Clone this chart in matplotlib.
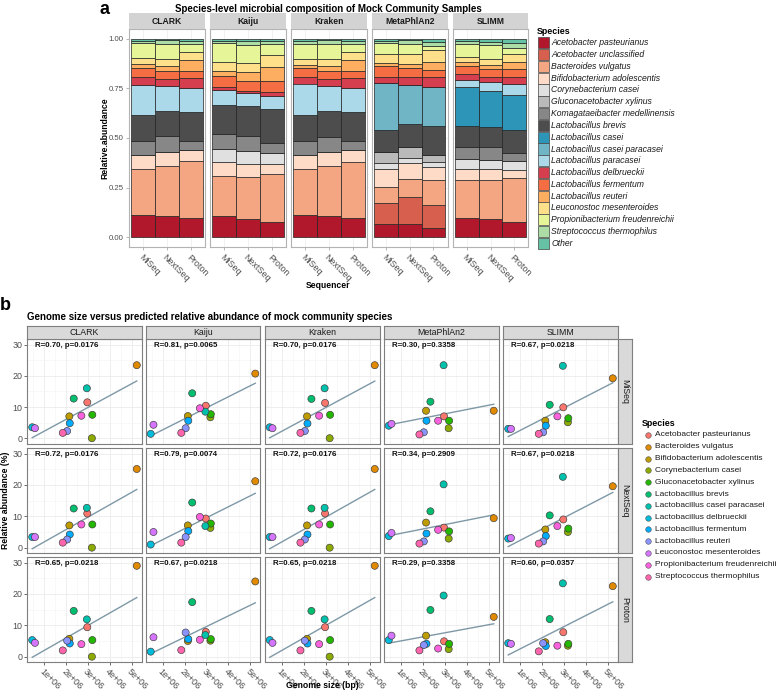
import numpy as np
import matplotlib.pyplot as plt
from matplotlib.patches import Rectangle
from matplotlib.ticker import FixedLocator

plt.rcParams["font.family"] = ["Liberation Sans", "DejaVu Sans"]

W, H = 778, 700          # output size in px (dpi 100)

tools = ["CLARK", "Kaiju", "Kraken", "MetaPhlAn2", "SLIMM"]
sequencers = ["MiSeq", "NextSeq", "Proton"]

# ---- panel a: stacked relative abundance, bottom -> top in legend order
bar_species = ["Acetobacter pasteurianus", "Acetobacter unclassified", "Bacteroides vulgatus",
               "Bifidobacterium adolescentis", "Corynebacterium casei", "Gluconacetobacter xylinus",
               "Komagataeibacter medellinensis", "Lactobacillus brevis", "Lactobacillus casei",
               "Lactobacillus casei paracasei", "Lactobacillus paracasei", "Lactobacillus delbrueckii",
               "Lactobacillus fermentum", "Lactobacillus reuteri", "Leuconostoc mesenteroides",
               "Propionibacterium freudenreichii", "Streptococcus thermophilus", "Other"]
bar_colors = ["#B2182B", "#D6604D", "#F4A582", "#FDDBC7", "#E0E0E0", "#BABABA", "#878787",
              "#4D4D4D", "#2D96B8", "#70B5C5", "#ABD9E9", "#D53E4F", "#F46D43", "#FDAE61",
              "#FEE08B", "#E6F598", "#ABDDA4", "#66C2A5"]

# rows: MiSeq, NextSeq, Proton
clark = [[.109, 0, .235, .071, 0, 0, .072, .129, 0, 0, .153, .037, .045, .022, .030, .074, .013, .010],
         [.106, 0, .252, .071, 0, 0, .079, .126, 0, 0, .128, .034, .042, .027, .035, .072, .020, .008],
         [.096, 0, .286, .055, 0, 0, .050, .143, 0, 0, .121, .050, .039, .054, .039, .039, .017, .012]]
kaiju = [[.104, 0, .203, .071, .067, 0, .076, .146, 0, 0, .077, .012, .055, .029, .042, .096, .013, .008],
         [.092, 0, .210, .067, .067, 0, .076, .148, 0, 0, .067, .012, .050, .042, .045, .094, .017, .012],
         [.076, 0, .244, .050, .054, 0, .052, .171, 0, 0, .067, .017, .055, .074, .061, .054, .013, .012]]
kraken = [[.112, 0, .230, .070, 0, 0, .071, .134, 0, 0, .158, .035, .045, .015, .027, .078, .015, .010],
          [.107, 0, .251, .071, 0, 0, .078, .127, 0, 0, .128, .034, .042, .027, .035, .072, .020, .008],
          [.096, 0, .285, .056, 0, 0, .050, .143, 0, 0, .121, .050, .039, .054, .039, .039, .017, .012]]
metaphlan2 = [[.067, .104, .084, .089, .029, .055, 0, .113, 0, .235, 0, .034, .052, .017, .045, .054, .010, .012],
              [.064, .138, .092, .079, .027, .054, 0, .118, 0, .197, 0, .039, .047, .020, .047, .054, .017, .008],
              [.047, .113, .126, .067, .025, .037, 0, .148, 0, .193, 0, .050, .037, .039, .062, .022, .017, .017]]
slimm = [[.097, 0, .192, .055, .050, 0, .062, .106, .193, 0, .037, .030, .042, .017, .029, .064, .013, .012],
         [.092, 0, .197, .055, .045, 0, .064, .101, .182, 0, .045, .029, .039, .017, .034, .067, .017, .017],
         [.076, 0, .224, .040, .042, 0, .042, .118, .176, 0, .055, .037, .039, .034, .039, .034, .024, .022]]
composition = [clark, kaiju, kraken, metaphlan2, slimm]

# ---- panel b: genome size vs predicted abundance (%)
pt_species = ["Acetobacter pasteurianus", "Bacteroides vulgatus", "Bifidobacterium adolescentis",
              "Corynebacterium casei", "Gluconacetobacter xylinus", "Lactobacillus brevis",
              "Lactobacillus casei paracasei", "Lactobacillus delbrueckii", "Lactobacillus fermentum",
              "Lactobacillus reuteri", "Leuconostoc mesenteroides", "Propionibacterium freudenreichii",
              "Streptococcus thermophilus"]
pt_colors = ["#F8766D", "#E18A00", "#BE9C00", "#8CAB00", "#24B700", "#00BE70", "#00C1AB",
             "#00BBDA", "#00ACFC", "#8B93FF", "#D575FE", "#F962DD", "#FF65AC"]
genome_size = [2.97e6, 5.23e6, 2.15e6, 3.18e6, 3.20e6, 2.35e6, 2.95e6,
               0.455e6, 2.17e6, 2.05e6, 0.58e6, 2.70e6, 1.85e6]

# abundance[sequencer][tool] in pt_species order
ab_miseq = [[11.5, 23.4, 7.0, 0.0, 7.5, 12.7, 16.0, 3.5, 4.8, 2.3, 3.2, 7.2, 1.7],
            [10.4, 20.7, 7.1, 6.7, 7.7, 14.4, 8.5, 1.4, 5.6, 3.2, 4.3, 9.6, 1.7],
            [11.3, 23.4, 7.0, 0.0, 7.5, 12.6, 16.0, 3.5, 4.7, 2.3, 3.2, 7.2, 1.7],
            [7.0, 8.8, 8.8, 3.2, 5.6, 11.7, 23.4, 4.0, 5.6, 1.9, 4.6, 5.6, 1.2],
            [9.9, 19.2, 5.6, 5.1, 6.4, 10.7, 23.2, 3.0, 4.0, 1.9, 3.0, 7.0, 1.4]]
ab_nextseq = [[10.9, 25.1, 7.1, 0.0, 7.4, 12.5, 12.7, 3.4, 4.2, 2.6, 3.4, 7.4, 1.6],
              [9.3, 21.2, 7.1, 6.3, 7.7, 14.4, 6.9, 1.0, 5.3, 3.4, 5.0, 9.8, 1.6],
              [10.9, 25.1, 7.1, 0.0, 7.4, 12.5, 12.7, 3.4, 4.2, 2.6, 3.4, 7.4, 1.6],
              [6.4, 9.4, 8.0, 2.9, 5.2, 11.6, 20.2, 3.7, 4.5, 2.0, 4.7, 5.7, 1.3],
              [9.0, 19.6, 5.8, 5.0, 6.1, 10.3, 22.6, 2.9, 3.7, 2.0, 3.1, 6.9, 1.3]]
ab_proton = [[9.4, 29.0, 5.7, 0.0, 5.3, 14.6, 11.9, 5.3, 4.2, 5.1, 4.4, 4.0, 2.0],
             [7.9, 24.0, 5.0, 5.1, 5.6, 17.4, 6.9, 1.6, 5.6, 7.7, 6.2, 5.4, 2.1],
             [9.4, 29.0, 5.7, 0.0, 5.3, 14.6, 11.9, 5.3, 4.2, 5.1, 4.4, 4.0, 2.0],
             [4.9, 12.7, 6.7, 2.4, 4.1, 14.9, 19.5, 5.3, 4.1, 3.7, 6.7, 2.6, 2.0],
             [7.8, 22.5, 4.6, 3.5, 4.1, 12.0, 23.4, 4.3, 3.4, 4.3, 4.1, 3.5, 1.7]]
abundance = [ab_miseq, ab_nextseq, ab_proton]

cor_labels = [["R=0.70, p=0.0176", "R=0.81, p=0.0065", "R=0.70, p=0.0176", "R=0.30, p=0.3358", "R=0.67, p=0.0218"],
              ["R=0.72, p=0.0176", "R=0.79, p=0.0074", "R=0.72, p=0.0176", "R=0.34, p=0.2909", "R=0.67, p=0.0218"],
              ["R=0.65, p=0.0218", "R=0.67, p=0.0218", "R=0.65, p=0.0218", "R=0.29, p=0.3358", "R=0.60, p=0.0357"]]


def box(x0, y0, x1, y1):          # pixel box (top-left origin) -> figure fraction rect
    return [x0 / W, 1 - y1 / H, (x1 - x0) / W, (y1 - y0) / H]


def strip(fig, rect, label, rot=0, bold=False, edge=None, fill="#D9D9D9", fs=6):
    s = fig.add_axes(rect)
    s.set_xticks([]); s.set_yticks([])
    s.set_facecolor(fill)
    for sp in s.spines.values():
        sp.set_visible(edge is not None)
        if edge: sp.set_color(edge); sp.set_linewidth(0.8)
    s.text(0.5, 0.5, label, ha="center", va="center", rotation=rot, fontsize=fs,
           color="#1A1A1A", fontweight="bold" if bold else "normal", transform=s.transAxes)
    return s


fig = plt.figure(figsize=(W / 100, H / 100), dpi=100)
ov = fig.add_axes([0, 0, 1, 1], zorder=10)
ov.set_xlim(0, W); ov.set_ylim(H, 0); ov.axis("off")

# ---------------- panel a ----------------
cols_a = [(129, 205), (210, 286), (291, 367), (372, 447.5), (453, 528)]
xpos = np.arange(1, 4)
for j, (tool, (x0, x1)) in enumerate(zip(tools, cols_a)):
    ax = fig.add_axes(box(x0, 29, x1, 247))
    vals = np.array(composition[j])
    bottom = np.zeros(3)
    for k in range(len(bar_species)):
        ax.bar(xpos, vals[:, k], bottom=bottom, width=1.0, color=bar_colors[k],
               edgecolor="#222222", linewidth=0.5, zorder=2)
        bottom += vals[:, k]
    ax.set_xlim(0.4, 3.6); ax.set_ylim(-0.05, 1.05)
    ax.set_yticks([0, 0.25, 0.5, 0.75, 1.0])
    ax.grid(color="#EBEBEB", lw=0.5, zorder=0)
    ax.set_xticks(xpos)
    ax.set_xticklabels(sequencers, rotation=-45, ha="left", va="top", rotation_mode="anchor",
                       fontsize=6.4, color="#4D4D4D")
    ax.tick_params(length=2, width=0.5, color="#999999", pad=2)
    if j == 0:
        ax.set_yticklabels(["0.00", "0.25", "0.50", "0.75", "1.00"], fontsize=5.6, color="#4D4D4D")
    else:
        ax.tick_params(axis="y", labelleft=False, length=0)
    for sp in ax.spines.values():
        sp.set_color("#B3B3B3"); sp.set_linewidth(0.8)
    strip(fig, box(x0, 13, x1, 29), tool, bold=True, fill="#D3D3D3", fs=6.2)

ov.text(100, 9, "a", fontsize=13, fontweight="bold", ha="left", va="center")
ov.text(328.5, 9, "Species-level microbial composition of Mock Community Samples",
        fontsize=7.0, fontweight="bold", ha="center", va="center")
ov.text(105, 138, "Relative.abundance", rotation=90, fontsize=6.2, fontweight="bold",
        ha="center", va="center")
ov.text(328.5, 285, "Sequencer", fontsize=6.2, fontweight="bold", ha="center", va="center")

ov.text(537, 31, "Species", fontsize=6.4, fontweight="bold", ha="left", va="center")
for i, (name, col) in enumerate(zip(bar_species, bar_colors)):
    yc = 42.8 + i * 11.8
    ov.add_patch(Rectangle((538, yc - 5.6), 11, 11.2, facecolor=col, edgecolor="#444444", lw=0.5))
    ov.text(551.5, yc, name, fontsize=6.2, style="italic", ha="left", va="center", color="#1A1A1A")

# ---------------- panel b ----------------
cols_b = [(27, 142), (145.5, 260.5), (264.5, 380), (383.5, 499), (503, 618)]
rows_b = [(339, 443.5), (448, 553), (557, 662)]
gx = np.array(genome_size)
span = gx.max() - gx.min()
xlim_b = (gx.min() - 0.05 * span, gx.max() + 0.05 * span)
xs = np.array([gx.min(), gx.max()])

for r, (y0, y1) in enumerate(rows_b):
    for c, (x0, x1) in enumerate(cols_b):
        ax = fig.add_axes(box(x0, y0, x1, y1))
        yv = np.array(abundance[r][c])
        ax.scatter(gx, yv, s=26, c=pt_colors, edgecolors="#3A3A3A", linewidths=0.45, zorder=3)
        k, b0 = np.polyfit(gx, yv, 1)
        ax.plot(xs, k * xs + b0, color="#7E98A6", lw=1.0, zorder=2)
        ax.set_xlim(*xlim_b); ax.set_ylim(-1.7, 31.8)
        ax.xaxis.set_major_locator(FixedLocator([1e6, 2e6, 3e6, 4e6, 5e6]))
        ax.xaxis.set_minor_locator(FixedLocator([0.5e6, 1.5e6, 2.5e6, 3.5e6, 4.5e6, 5.5e6]))
        ax.yaxis.set_major_locator(FixedLocator([0, 10, 20, 30]))
        ax.yaxis.set_minor_locator(FixedLocator([5, 15, 25]))
        ax.grid(which="major", color="#EBEBEB", lw=0.6, zorder=0)
        ax.grid(which="minor", color="#F4F4F4", lw=0.4, zorder=0)
        ax.tick_params(which="minor", length=0)
        ax.tick_params(which="major", length=2, width=0.5, color="#333333", pad=1.5)
        if c == 0:
            ax.set_yticklabels(["0", "10", "20", "30"], fontsize=6.4, color="#4D4D4D")
        else:
            ax.tick_params(axis="y", labelleft=False, length=0)
        if r == 2:
            ax.set_xticklabels(["1e+06", "2e+06", "3e+06", "4e+06", "5e+06"], rotation=-45,
                               ha="left", va="top", rotation_mode="anchor",
                               fontsize=6.5, color="#4D4D4D")
        else:
            ax.tick_params(axis="x", labelbottom=False, length=0)
        for sp in ax.spines.values():
            sp.set_color("#7F7F7F"); sp.set_linewidth(0.8)
        ax.text(0.07, 0.935, cor_labels[r][c], transform=ax.transAxes, fontsize=5.7,
                fontweight="bold", ha="left", va="center", color="#111111")
        if r == 0:
            strip(fig, box(x0, 326, x1, 339), tools[c], edge="#7F7F7F", fs=6.3)
        if c == 4:
            strip(fig, box(618, y0, 632, y1), sequencers[r], rot=-90, edge="#7F7F7F", fs=6.3)

ov.text(0, 305, "b", fontsize=13, fontweight="bold", ha="left", va="center")
ov.text(27, 317, "Genome size versus predicted relative abundance of mock community species",
        fontsize=7.0, fontweight="bold", ha="left", va="center")
ov.text(6, 500, "Relative abundance (%)", rotation=90, fontsize=6.2, fontweight="bold",
        ha="center", va="center")
ov.text(322.5, 685, "Genome size (bp)", fontsize=6.2, fontweight="bold", ha="center", va="center")

ov.text(642, 423, "Species", fontsize=6.4, fontweight="bold", ha="left", va="center")
for i, (name, col) in enumerate(zip(pt_species, pt_colors)):
    yc = 435 + i * 11.8
    ov.scatter([648], [yc], s=16, color=col, edgecolors="#555555", linewidths=0.4)
    ov.text(655, yc, name, fontsize=6.0, ha="left", va="center", color="#1A1A1A")

fig.savefig("out.png", dpi=100)
